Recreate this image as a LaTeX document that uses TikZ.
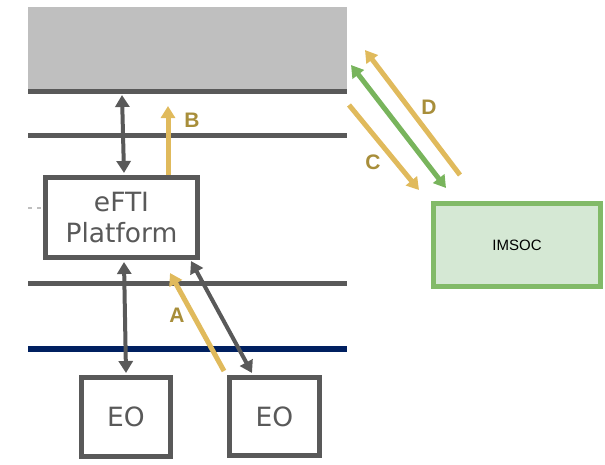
\documentclass[tikz,border=0pt]{standalone}
\usepackage{fontspec}
\setmainfont{DejaVu Sans}
\newfontfamily\arialf{Liberation Sans}
\usetikzlibrary{arrows.meta}
\definecolor{dgray}{RGB}{89,89,89}
\definecolor{lgray}{RGB}{191,191,191}
\definecolor{gold}{RGB}{224,186,92}
\definecolor{goldtxt}{RGB}{168,142,58}
\definecolor{garrow}{RGB}{120,180,92}
\definecolor{gborder}{RGB}{130,186,104}
\definecolor{gfill}{RGB}{213,232,212}
\definecolor{navy}{RGB}{0,32,96}
\tikzset{
  boxn/.style={draw=dgray, line width=5pt, fill=white, inner sep=0pt, text=dgray, font=\fontsize{26.5}{31}\selectfont, align=center},
  hline/.style={draw=dgray, line width=5pt},
  tipT/.tip={Triangle[width=14pt,length=12pt]},
  dconn/.style={draw=dgray, line width=4pt, tipT-tipT},
  yconn/.style={draw=gold, line width=5pt, -tipT},
  gconn/.style={draw=garrow, line width=5pt, tipT-tipT},
  lbl/.style={text=goldtxt, font=\arialf\bfseries\fontsize{21}{23}\selectfont, inner sep=0pt}
}
\begin{document}
\begin{tikzpicture}[x=1pt,y=-1pt]
\useasboundingbox (0,0) rectangle (605,464);
% top system block
\node[fill=lgray, minimum width=319pt, minimum height=84pt, inner sep=0pt] (sys) at (187.5,49) {};
\coordinate (l1a) at (28,91); \coordinate (l1b) at (347,91);
\coordinate (l2a) at (28,135); \coordinate (l2b) at (347,135);
\coordinate (l3a) at (28,283); \coordinate (l3b) at (347,283);
\coordinate (l4a) at (28,349); \coordinate (l4b) at (347,349);
\draw[hline] (l1a) -- (l1b);
\draw[hline] (l2a) -- (l2b);
\draw[hline] (l3a) -- (l3b);
\draw[draw=navy, line width=5.5pt] (l4a) -- (l4b);
\coordinate (dta) at (28,208); \coordinate (dtb) at (43,208);
\draw[lgray, line width=1.5pt, dash pattern=on 4pt off 5pt] (dta) -- (dtb);
% nodes
\node[boxn, minimum width=152pt, minimum height=80pt] (plat) at (121.5,217.5) {eFTI\\Platform};
\node[boxn, minimum width=89pt, minimum height=79pt] (eo1) at (126,417) {EO};
\node[boxn, minimum width=90pt, minimum height=78pt] (eo2) at (274.5,416.5) {EO};
\node[draw=gborder, fill=gfill, line width=5pt, minimum width=167pt, minimum height=83pt, inner sep=0pt, font=\arialf\fontsize{15}{18}\selectfont] (imsoc) at (517,245) {IMSOC};
% arrow end points
\coordinate (s1) at (122,95); \coordinate (p1) at (124,173);
\coordinate (bT) at (168,106); \coordinate (bS) at (168,175);
\coordinate (p2) at (124,262); \coordinate (e1) at (126,373);
\coordinate (p3) at (191,261); \coordinate (e2) at (252,373);
\coordinate (aT) at (170,273); \coordinate (aS) at (224,371);
\coordinate (cS) at (349,105); \coordinate (cT) at (419,190);
\coordinate (g1) at (351,65); \coordinate (g2) at (446,188);
\coordinate (dS) at (460,175); \coordinate (dT) at (365,50);
% connectors
\draw[dconn] (s1) -- (p1);
\draw[yconn] (bS) -- (bT);
\draw[dconn] (p2) -- (e1);
\draw[yconn] (aS) -- (aT);
\draw[dconn] (p3) -- (e2);
\draw[yconn] (cS) -- (cT);
\draw[gconn] (g1) -- (g2);
\draw[yconn] (dS) -- (dT);
% labels
\node[lbl] (lb) at (192,120) {B};
\node[lbl] (la) at (177,315) {A};
\node[lbl] (lc) at (373,162) {C};
\node[lbl] (ld) at (429,107) {D};
\end{tikzpicture}
\end{document}
